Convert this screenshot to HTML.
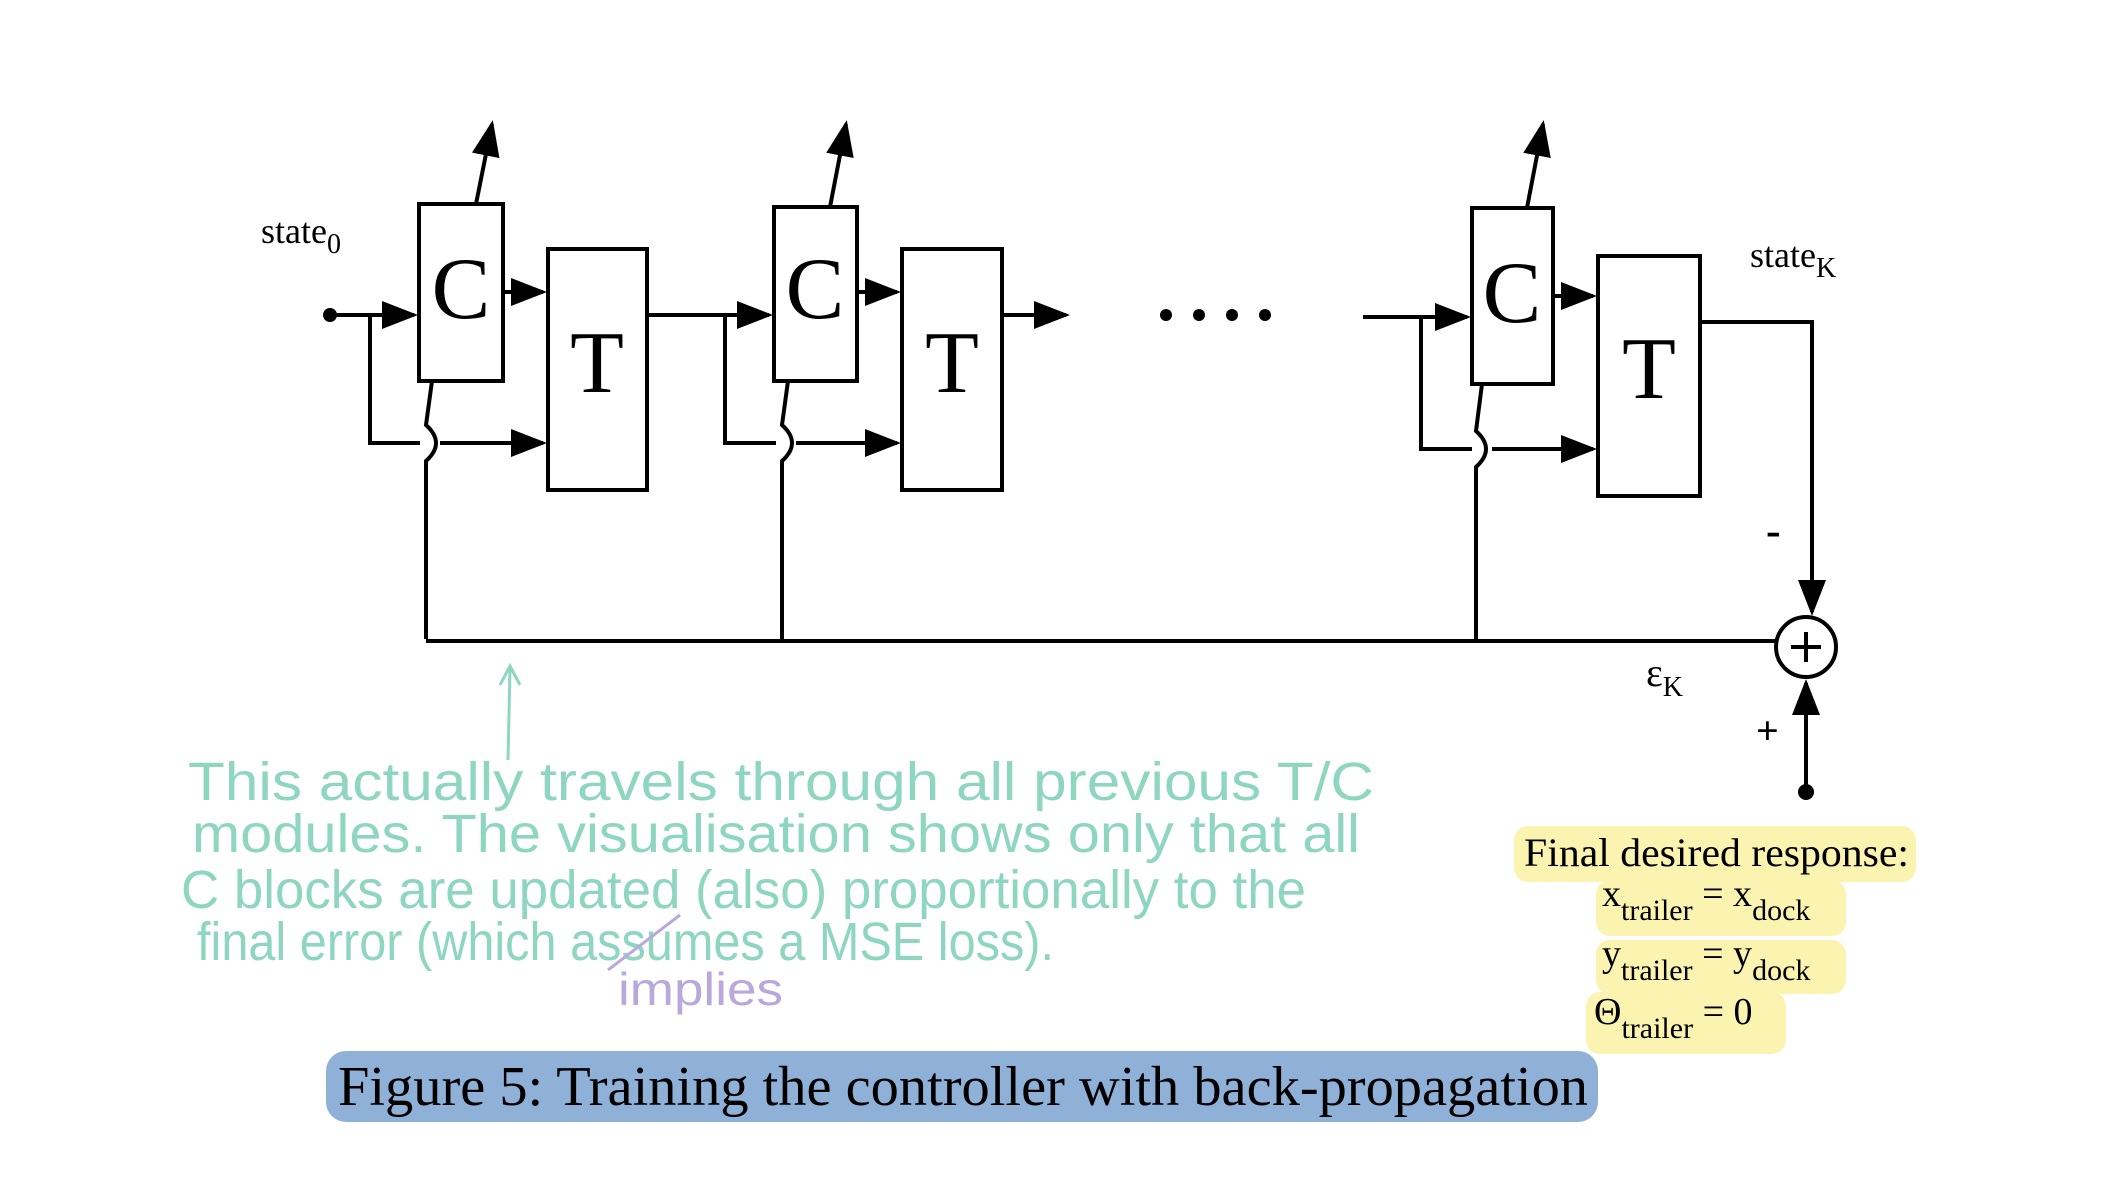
<!DOCTYPE html>
<html><head><meta charset="utf-8"><style>
html,body{margin:0;padding:0;background:#fff;}
svg{display:block;}
</style></head><body>
<svg width="2122" height="1202" viewBox="0 0 2122 1202" xmlns="http://www.w3.org/2000/svg">
<defs>
<marker id="ah" markerWidth="9" markerHeight="7" refX="8" refY="3.5" orient="auto" markerUnits="strokeWidth">
<path d="M0,0 L9,3.5 L0,7 z" fill="#000"/></marker>
</defs>
<rect width="2122" height="1202" fill="#fff"/>
<g stroke="#000" stroke-width="4" fill="none">
<rect x="419" y="204" width="84" height="177"/>
<rect x="548" y="249" width="99" height="241"/>
<line x1="330" y1="315" x2="414" y2="315" marker-end="url(#ah)"/>
<polyline points="370,315 370,443 420,443"/>
<line x1="440" y1="443" x2="543" y2="443" marker-end="url(#ah)"/>
<line x1="503" y1="292" x2="543" y2="292" marker-end="url(#ah)"/>
<line x1="476" y1="204" x2="492" y2="124" marker-end="url(#ah)"/>
<path d="M432,381 L426,425 Q446,443 426,461 L426,639"/>
<line x1="647" y1="315" x2="769" y2="315" marker-end="url(#ah)"/>
<rect x="774" y="207" width="83" height="174"/>
<rect x="902" y="249" width="100" height="241"/>
<polyline points="725,315 725,443 776,443"/>
<line x1="796" y1="443" x2="897" y2="443" marker-end="url(#ah)"/>
<line x1="857" y1="292" x2="897" y2="292" marker-end="url(#ah)"/>
<line x1="830" y1="207" x2="846" y2="124" marker-end="url(#ah)"/>
<path d="M788,381 L782,425 Q802,443 782,461 L782,639"/>
<line x1="1002" y1="315" x2="1066" y2="315" marker-end="url(#ah)"/>
<line x1="1363" y1="317" x2="1467" y2="317" marker-end="url(#ah)"/>
<rect x="1472" y="208" width="81" height="176"/>
<rect x="1598" y="256" width="102" height="240"/>
<polyline points="1421,317 1421,449 1472,449"/>
<line x1="1492" y1="449" x2="1593" y2="449" marker-end="url(#ah)"/>
<line x1="1553" y1="296" x2="1593" y2="296" marker-end="url(#ah)"/>
<line x1="1527" y1="208" x2="1543" y2="124" marker-end="url(#ah)"/>
<path d="M1482,384 L1476,431 Q1496,449 1476,467 L1476,642"/>
<polyline points="1700,322 1812,322 1812,612" marker-end="url(#ah)"/>
<line x1="1806" y1="792" x2="1806" y2="683" marker-end="url(#ah)"/>
<polyline points="426,641 1776,641"/>
<circle cx="1806" cy="647" r="30"/>
<line x1="1806" y1="632" x2="1806" y2="662"/>
<line x1="1791" y1="647" x2="1821" y2="647"/>
</g>
<circle cx="330" cy="315" r="7" fill="#000"/>
<circle cx="1806" cy="792" r="8" fill="#000"/>
<g fill="#000">
<circle cx="1166" cy="315" r="6"/><circle cx="1199" cy="315" r="6"/><circle cx="1232" cy="315" r="6"/><circle cx="1265" cy="315" r="6"/>
</g>
<g font-family="Liberation Serif, serif" fill="#000">
<text x="461" y="318" font-size="88" text-anchor="middle">C</text>
<text x="597" y="392" font-size="88" text-anchor="middle">T</text>
<text x="815" y="318" font-size="88" text-anchor="middle">C</text>
<text x="952" y="392" font-size="88" text-anchor="middle">T</text>
<text x="1512" y="322" font-size="88" text-anchor="middle">C</text>
<text x="1649" y="398" font-size="88" text-anchor="middle">T</text>
<text x="261" y="243" font-size="36">state<tspan font-size="28" dy="10">0</tspan></text>
<text x="1750" y="267" font-size="36">state<tspan font-size="28" dy="10">K</tspan></text>
<text x="1766" y="545" font-size="44" font-weight="bold">-</text>
<text x="1756" y="744" font-size="40" font-weight="bold">+</text>
<text x="1646" y="686" font-size="40">ε<tspan font-size="28" dy="10">K</tspan></text>
</g>
<g fill="#fbf3b0">
<rect x="1514" y="826" width="402" height="56" rx="14"/>
<rect x="1596" y="880" width="250" height="56" rx="14"/>
<rect x="1596" y="940" width="250" height="54" rx="14"/>
<rect x="1586" y="992" width="200" height="62" rx="14"/>
</g>
<g font-family="Liberation Serif, serif" fill="#000">
<text x="1524" y="866" font-size="40" textLength="385" lengthAdjust="spacingAndGlyphs">Final desired response:</text>
<text x="1602" y="906" font-size="38">x<tspan font-size="30" dy="14">trailer</tspan><tspan dy="-14"> = x</tspan><tspan font-size="30" dy="14">dock</tspan></text>
<text x="1602" y="966" font-size="38">y<tspan font-size="30" dy="14">trailer</tspan><tspan dy="-14"> = y</tspan><tspan font-size="30" dy="14">dock</tspan></text>
<text x="1594" y="1024" font-size="38">Θ<tspan font-size="30" dy="14">trailer</tspan><tspan dy="-14"> = 0</tspan></text>
</g>
<rect x="326" y="1051" width="1272" height="71" rx="20" fill="#8fb1d8"/>
<text x="338" y="1105" font-family="Liberation Serif, serif" font-size="56" textLength="1250" lengthAdjust="spacingAndGlyphs" fill="#000">Figure 5: Training the controller with back-propagation</text>
<g stroke="#8fd6c0" stroke-width="3" fill="none">
<line x1="508" y1="760" x2="510" y2="668"/>
<polyline points="500,685 510,666 520,685"/>
</g>
<g font-family="Liberation Sans, sans-serif" fill="#8fd6c0" font-size="54">
<text x="188" y="800" textLength="1186" lengthAdjust="spacingAndGlyphs">This actually travels through all previous T/C</text>
<text x="192" y="852" textLength="1168" lengthAdjust="spacingAndGlyphs">modules. The visualisation shows only that all</text>
<text x="181" y="908" textLength="1125" lengthAdjust="spacingAndGlyphs">C blocks are updated (also) proportionally to the</text>
<text x="197" y="960" textLength="857" lengthAdjust="spacingAndGlyphs">final error (which assumes a MSE loss).</text>
</g>
<line x1="608" y1="970" x2="680" y2="915" stroke="#b8a8dc" stroke-width="3"/>
<text x="618" y="1005" font-family="Liberation Sans, sans-serif" font-size="46" fill="#b8a8dc" textLength="165" lengthAdjust="spacingAndGlyphs">implies</text>
</svg>
</body></html>
